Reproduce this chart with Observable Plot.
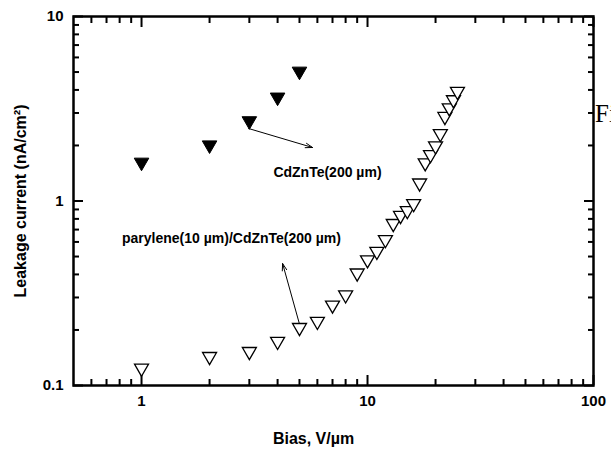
<!DOCTYPE html>
<html><head><meta charset="utf-8">
<script src="https://cdn.jsdelivr.net/npm/d3@7"></script>
<script src="https://cdn.jsdelivr.net/npm/@observablehq/plot@0.6"></script>
<style>
html,body{margin:0;padding:0;background:#fff;overflow:hidden;}
#wrap{position:relative;width:611px;height:449px;overflow:hidden;}
#chart svg{display:block;}
#fig{position:absolute;left:595px;top:101px;font-family:"Liberation Serif","Times New Roman",serif;font-size:25px;line-height:1;color:#000;white-space:nowrap;}
</style></head><body>
<div id="wrap"><div id="chart"></div><div id="fig">Fi</div></div>
<script>
// Data (log-log axes)
const biasBare = [1, 2, 3, 4, 5];
const currentBare = [1.58, 1.96, 2.65, 3.56, 4.92];
const biasParylene = [1, 2, 3, 4, 5, 6, 7, 8, 9, 10, 11, 12, 13, 14, 15, 16, 17, 18, 19, 20, 21, 22, 23, 24, 25];
const currentParylene = [0.121, 0.14, 0.149, 0.169, 0.201, 0.217, 0.266, 0.302, 0.397, 0.468, 0.52, 0.602, 0.736, 0.814, 0.865, 0.943, 1.22, 1.57, 1.74, 1.94, 2.26, 2.8, 3.12, 3.45, 3.83];

const xMajorTicks = [1, 10, 100];
const xMinorTicks = [0.6, 0.7, 0.8, 0.9, 2, 3, 4, 5, 6, 7, 8, 9, 20, 30, 40, 50, 60, 70, 80, 90];
const yMajorTicks = [0.1, 1, 10];
const yMinorTicks = [0.2, 0.3, 0.4, 0.5, 0.6, 0.7, 0.8, 0.9, 2, 3, 4, 5, 6, 7, 8, 9];

const xTitle = "Bias, V/\u00b5m";
const yTitle = "Leakage current (nA/cm\u00b2)";

const noteText = ["CdZnTe(200 \u00b5m)", "parylene(10 \u00b5m)/CdZnTe(200 \u00b5m)"];
const noteX = [6.65, 2.5];
const noteY = [1.43, 0.626];
const arrowX1 = [2.98, 5.05];
const arrowY1 = [2.47, 0.206];
const arrowX2 = [5.71, 4.21];
const arrowY2 = [1.95, 0.458];

const bare = biasBare.map((x, i) => ({x, y: currentBare[i]}));
const parylene = biasParylene.map((x, i) => ({x, y: currentParylene[i]}));
const notes = noteText.map((t, i) => ({t, x: noteX[i], y: noteY[i]}));
const arrows = arrowX1.map((x1, i) => ({x1, y1: arrowY1[i], x2: arrowX2[i], y2: arrowY2[i]}));

const W = 611, H = 449, ML = 73, MR = 18, MT = 16, MB = 64;

// inward ticks on all four sides (negative tick size points into the frame); fill "none" = no labels
function tickAxes(xs, ys, len) {
  const s = {tickSize: -len, fill: "none", label: null, stroke: "#000", strokeWidth: 2};
  return [
    Plot.axisX(xs, {...s, anchor: "bottom"}),
    Plot.axisX(xs, {...s, anchor: "top"}),
    Plot.axisY(ys, {...s, anchor: "left"}),
    Plot.axisY(ys, {...s, anchor: "right"})
  ];
}

const chart = Plot.plot({
  width: W,
  height: H,
  marginLeft: ML,
  marginRight: MR,
  marginTop: MT,
  marginBottom: MB,
  x: {type: "log", domain: [0.5, 100]},
  y: {type: "log", domain: [0.1, 10]},
  style: {fontFamily: "'Liberation Sans', Arial, sans-serif", background: "white", color: "black"},
  marks: [
    Plot.axisX({ticks: xMajorTicks, tickSize: 0, tickPadding: 10, tickFormat: d => String(d), fontSize: 15, fontWeight: "bold", label: null}),
    Plot.axisY({ticks: yMajorTicks, tickSize: 0, tickPadding: 10, tickFormat: d => String(d), fontSize: 15, fontWeight: "bold", label: null}),
    ...tickAxes(xMinorTicks, yMinorTicks, 6),
    ...tickAxes(xMajorTicks, yMajorTicks, 10),
    Plot.frame({stroke: "black", strokeWidth: 2.5}),
    Plot.text([xTitle], {text: d => d, frameAnchor: "bottom", textAnchor: "middle", lineAnchor: "middle", dx: -20, dy: 53, fontSize: 16, fontWeight: "bold"}),
    Plot.text([yTitle], {text: d => d, frameAnchor: "left", textAnchor: "middle", lineAnchor: "middle", rotate: -90, dx: -53, fontSize: 16, fontWeight: "bold"}),
    Plot.arrow(arrows, {x1: "x1", y1: "y1", x2: "x2", y2: "y2", stroke: "black", strokeWidth: 1, headLength: 11, headAngle: 36}),
    Plot.text(notes, {x: "x", y: "y", text: "t", fontSize: 14, fontWeight: "bold"}),
    Plot.dot(bare, {x: "x", y: "y", symbol: "triangle", r: 5.4, rotate: 180, dy: -2, fill: "black", stroke: "black", strokeWidth: 1}),
    Plot.dot(parylene, {x: "x", y: "y", symbol: "triangle", r: 5.2, rotate: 180, dy: -2, fill: "white", stroke: "black", strokeWidth: 1.3})
  ]
});
document.getElementById("chart").appendChild(chart);
</script>
</body></html>
